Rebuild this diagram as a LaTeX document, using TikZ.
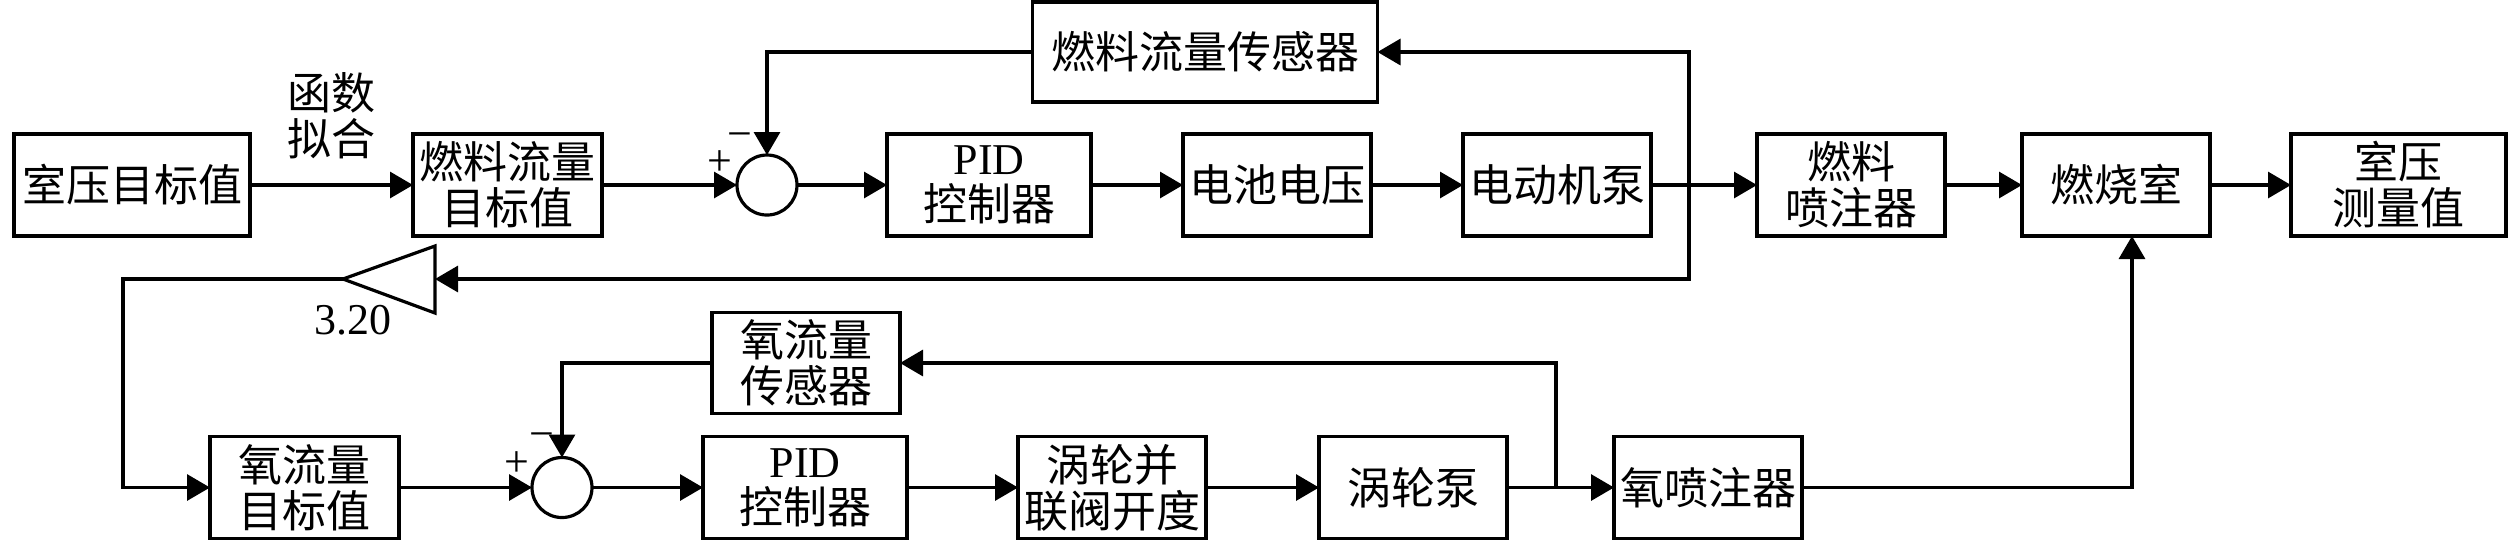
\documentclass[tikz,border=0pt]{standalone}
\usepackage{fontspec}
\setmainfont{Liberation Serif}
\newfontfamily\cjk{Noto Sans CJK SC}
\usepackage{tikz}
\usetikzlibrary{arrows.meta, positioning}

\begin{document}
\begin{tikzpicture}[
    x=0.25pt, y=-0.25pt,
    blk/.style={rectangle, draw, line width=0.8pt, minimum height=25.5pt, inner sep=0pt, outer sep=0pt, align=center, font=\fontsize{11}{11.5}\selectfont\cjk},
    sumjunc/.style={circle, draw, line width=0.8pt, minimum size=15pt, inner sep=0pt, outer sep=0pt},
    lbl/.style={align=center, inner sep=0pt, font=\fontsize{11}{11.5}\selectfont\cjk},
    signlbl/.style={inner sep=0pt, font=\fontsize{11}{11}\selectfont},
    arrow/.style={-{Triangle[length=5.75pt,width=6.5pt]}, line width=0.8pt},
    wire/.style={line width=0.8pt}
]
\useasboundingbox (0,0) rectangle (2520,540);

% Fuel loop
\node[blk, minimum width=59pt] (ptgt) at (132,185) {室压目标值};
\node[blk, minimum width=47.25pt, right=40.75pt of ptgt] (ftgt) {燃料流量\\目标值};
\node[sumjunc, right=33.75pt of ftgt] (sum1) {};
\node[blk, minimum width=51pt, right=22.5pt of sum1] (pid1) {{\rmfamily PID}\\控制器};
\node[blk, minimum width=47pt, right=23pt of pid1] (bat) {电池电压};
\node[blk, minimum width=47pt, right=23pt of bat] (motor) {电动机泵};
\node[blk, minimum width=47pt, right=26.5pt of motor] (finj) {燃料\\喷注器};
\node[blk, minimum width=47pt, right=19.25pt of finj] (comb) {燃烧室};
\node[blk, minimum width=53.75pt, right=20.25pt of comb] (pmeas) {室压\\测量值};
\node[blk, minimum width=86.25pt, minimum height=25pt] (fsens) at (1205,52) {燃料流量传感器};

% Gain
\draw[wire] (435,246) -- (343,279) -- (435,313) -- cycle;
\coordinate (gtip) at (343,279);
\coordinate (gbase) at (435,279);
\node[signlbl] (gainval) at (353,320) {3.20};

% Oxidizer loop
\node[blk, minimum width=47.25pt] (otgt) at (304.5,487.5) {氧流量\\目标值};
\node[sumjunc, right=33.25pt of otgt] (sum2) {};
\node[blk, minimum width=51pt, right=27.75pt of sum2] (pid2) {{\rmfamily PID}\\控制器};
\node[blk, minimum width=47pt, right=27.75pt of pid2] (valve) {涡轮并\\联阀开度};
\node[blk, minimum width=47pt, right=28.25pt of valve] (tpump) {涡轮泵};
\node[blk, minimum width=47pt, right=26.75pt of tpump] (oinj) {氧喷注器};
\node[blk, minimum width=47pt, minimum height=25.25pt] (osens) at (806,363) {氧流量\\传感器};

% Branch points
\coordinate[right=9.5pt of motor] (fj);
\coordinate[right=12.25pt of tpump] (oj);

% Signs
\node[signlbl] at ([shift={(-6.75pt,11pt)}]sum1.center) {−};
\node[signlbl] at ([shift={(-11.75pt,5.5pt)}]sum1.center) {+};
\node[signlbl] at ([shift={(-5pt,11.75pt)}]sum2.center) {−};
\node[signlbl] at ([shift={(-11.25pt,5.75pt)}]sum2.center) {+};

% Connections
\draw[arrow] (ptgt) -- node[lbl, above=6pt] {函数\\拟合} (ftgt);
\draw[arrow] (ftgt) -- (sum1);
\draw[arrow] (sum1) -- (pid1);
\draw[arrow] (pid1) -- (bat);
\draw[arrow] (bat) -- (motor);
\draw[arrow] (motor) -- (finj);
\draw[arrow] (finj) -- (comb);
\draw[arrow] (comb) -- (pmeas);
\draw[arrow] (fj) |- (fsens);
\draw[arrow] (fsens) -| (sum1);
\draw[arrow] (fj) |- (gbase);
\draw[arrow] (gtip) -- ++(-55pt,0) |- (otgt);

\draw[arrow] (otgt) -- (sum2);
\draw[arrow] (sum2) -- (pid2);
\draw[arrow] (pid2) -- (valve);
\draw[arrow] (valve) -- (tpump);
\draw[arrow] (tpump) -- (oinj);
\draw[arrow] (oj) |- (osens);
\draw[arrow] (osens) -| (sum2);
\draw[arrow] (oinj) -| ([xshift=4pt]comb.south);

\end{tikzpicture}
\end{document}
